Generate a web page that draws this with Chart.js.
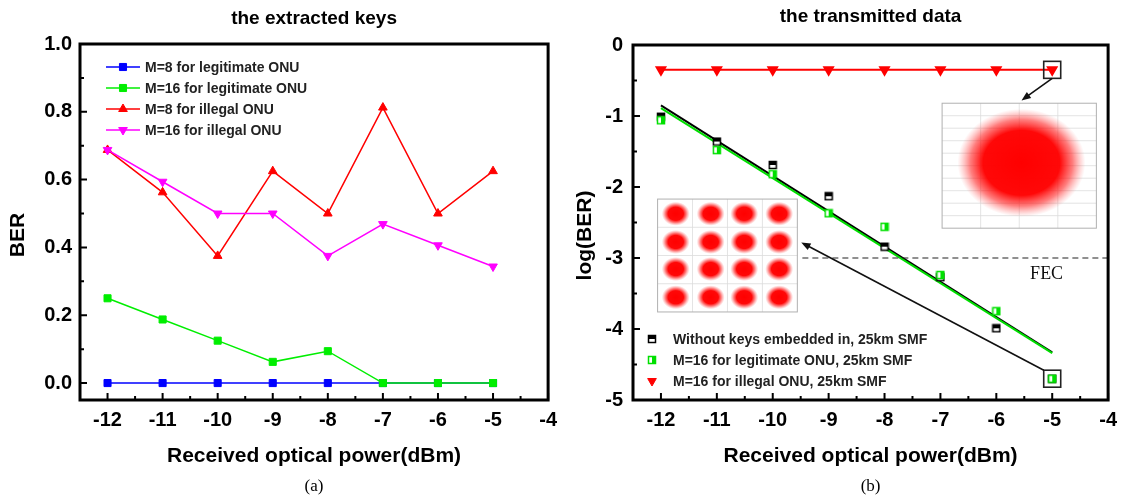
<!DOCTYPE html>
<html>
<head>
<meta charset="utf-8">
<script src="https://cdn.jsdelivr.net/npm/chart.js@4.4.0/dist/chart.umd.min.js"></script>
<style>
  html, body { margin: 0; padding: 0; background: #fff; }
  #wrap { position: relative; width: 1125px; height: 499px; overflow: hidden; }
  #wrap canvas { position: absolute; top: 0; }
</style>
</head>
<body>
<div id="wrap">
  <canvas id="keysChart" width="565" height="499" style="left:0"></canvas>
  <canvas id="dataChart" width="560" height="499" style="left:565px"></canvas>
</div>
<script>
// received optical power (dBm)
const power = [-12, -11, -10, -9, -8, -7, -6, -5];
const xTicks = [-12, -11, -10, -9, -8, -7, -6, -5, -4];

// (a) BER of the extracted keys
const berM8Legit = [0, 0, 0, 0, 0, 0, 0, 0];
const berM16Legit = [0.25, 0.1875, 0.125, 0.0625, 0.094, 0, 0, 0];
const berM8Illegal = [0.6875, 0.5625, 0.375, 0.625, 0.5, 0.8125, 0.5, 0.625];
const berM16Illegal = [0.6875, 0.59375, 0.5, 0.5, 0.375, 0.46875, 0.40625, 0.34375];
const berTicks = [0, 0.2, 0.4, 0.6, 0.8, 1.0];

// (b) log(BER) of the transmitted data
const logNoKeys = [-1.01, -1.36, -1.69, -2.13, -2.84, -3.27, -3.99, -4.70];
const logM16Legit = [-1.06, -1.48, -1.82, -2.37, -2.56, -3.24, -3.75, -4.70];
const logM16Illegal = [-0.35, -0.35, -0.35, -0.35, -0.35, -0.35, -0.35, -0.35];
const fitPower = [-12, -5];
const fitNoKeys = [-0.85, -4.33];
const fitM16Legit = [-0.89, -4.34];
const fecPower = [-9.47, -4];
const fecLevel = [-3, -3];
const logTicks = [0, -1, -2, -3, -4, -5];

const sans = "'Liberation Sans', Arial, Helvetica, sans-serif";
const serif = "'Liberation Serif', 'Times New Roman', serif";

const pts = (xs, ys) => xs.map((x, i) => ({ x: x, y: ys[i] }));
const mids = a => a.slice(1).map((v, i) => (v + a[i]) / 2);

// half filled square markers (Origin style)
function halfSquare(color, half) {
  const c = document.createElement('canvas');
  c.width = 10; c.height = 10;
  const g = c.getContext('2d');
  g.fillStyle = '#fff';
  g.fillRect(1, 1, 8, 8);
  g.fillStyle = color;
  if (half === 'top') g.fillRect(1, 1, 8, 4);
  else g.fillRect(5, 1, 4, 8);
  g.strokeStyle = color;
  g.lineWidth = 1.5;
  g.strokeRect(1.5, 1.5, 7, 7);
  return c;
}
const blackHalf = halfSquare('#000', 'top');
const greenHalf = halfSquare('#00e000', 'right');

function marker(ctx, style, rotation, x, y, color) {
  ctx.save();
  if (style instanceof HTMLCanvasElement) {
    ctx.drawImage(style, x - style.width / 2, y - style.height / 2);
  } else {
    ctx.fillStyle = color;
    ctx.strokeStyle = color;
    Chart.helpers.drawPoint(ctx, { pointStyle: style, rotation: rotation, radius: 5, borderWidth: 1 }, x, y);
  }
  ctx.restore();
}

function frameAndTicks(chart) {
  const { ctx, chartArea: a, scales } = chart;
  const x = scales.x, y = scales.y;
  const xv = x.ticks.map(t => t.value), yv = y.ticks.map(t => t.value);
  ctx.save();
  ctx.strokeStyle = '#000';
  ctx.lineWidth = 2;
  ctx.beginPath();
  xv.forEach(v => { const p = x.getPixelForValue(v); ctx.moveTo(p, a.bottom); ctx.lineTo(p, a.bottom - 7); });
  mids(xv).forEach(v => { const p = x.getPixelForValue(v); ctx.moveTo(p, a.bottom); ctx.lineTo(p, a.bottom - 4); });
  yv.forEach(v => { const p = y.getPixelForValue(v); ctx.moveTo(a.left, p); ctx.lineTo(a.left + 7, p); });
  mids(yv).forEach(v => { const p = y.getPixelForValue(v); ctx.moveTo(a.left, p); ctx.lineTo(a.left + 4, p); });
  ctx.stroke();
  ctx.lineWidth = 3;
  ctx.strokeRect(a.left, a.top, a.right - a.left, a.bottom - a.top);
  ctx.restore();
}

function texts(chart, title, titleY, yTitle, yTitleX, caption) {
  const { ctx, chartArea: a } = chart;
  const cx = (a.left + a.right) / 2;
  ctx.save();
  ctx.fillStyle = '#000';
  ctx.textAlign = 'center';
  ctx.textBaseline = 'middle';
  ctx.font = 'bold 19px ' + sans;
  ctx.fillText(title, cx, titleY);
  ctx.font = '17px ' + serif;
  ctx.fillText(caption, cx, 487);
  ctx.translate(yTitleX, (a.top + a.bottom) / 2 + 13);
  ctx.rotate(-Math.PI / 2);
  ctx.font = 'bold 21px ' + sans;
  ctx.fillText(yTitle, 0, 0);
  ctx.restore();
}

function legendBox(chart, rows, x0, y0, dy, withLine) {
  const ctx = chart.ctx;
  rows.forEach((r, i) => {
    const y = y0 + i * dy;
    if (withLine) {
      ctx.save();
      ctx.strokeStyle = r.color;
      ctx.lineWidth = 1.5;
      ctx.beginPath();
      ctx.moveTo(x0, y); ctx.lineTo(x0 + 34, y);
      ctx.stroke();
      ctx.restore();
      marker(ctx, r.style, r.rotation, x0 + 17, y, r.color);
    } else {
      marker(ctx, r.style, r.rotation, x0, y, r.color);
    }
    ctx.save();
    ctx.fillStyle = '#222';
    ctx.font = 'bold 14px ' + sans;
    ctx.textBaseline = 'middle';
    ctx.fillText(r.label, withLine ? x0 + 39 : x0 + 21, y + 1);
    ctx.restore();
  });
}

function xScale() {
  return {
    type: 'linear', min: -12.5, max: -4,
    afterBuildTicks: s => { s.ticks = xTicks.map(v => ({ value: v })); },
    afterFit: s => { s.height = 99; },
    grid: { display: false, drawTicks: false },
    border: { display: false },
    ticks: { padding: 8, color: '#000', font: { family: sans, size: 20, weight: 'bold' }, callback: v => String(v) },
    title: {
      display: true, text: 'Received optical power(dBm)', color: '#000',
      font: { family: sans, size: 21, weight: 'bold', lineHeight: 1.2 },
      padding: { top: 0, bottom: 30 }
    }
  };
}

function yScale(min, max, ticks, width, pad, fmt) {
  return {
    type: 'linear', min: min, max: max,
    afterBuildTicks: s => { s.ticks = ticks.map(v => ({ value: v })); },
    afterFit: s => { s.width = width; },
    grid: { display: false, drawTicks: false },
    border: { display: false },
    ticks: { padding: pad, color: '#000', font: { family: sans, size: 20, weight: 'bold' }, callback: fmt }
  };
}

// ---------- (a) the extracted keys ----------
const keysSets = [
  { label: 'M=8 for legitimate ONU', data: pts(power, berM8Legit), color: '#0000ff', style: 'rect', rotation: 0, order: 3 },
  { label: 'M=16 for legitimate ONU', data: pts(power, berM16Legit), color: '#00ee00', style: 'rect', rotation: 0, order: 2 },
  { label: 'M=8 for illegal ONU', data: pts(power, berM8Illegal), color: '#ff0000', style: 'triangle', rotation: 0, order: 1 },
  { label: 'M=16 for illegal ONU', data: pts(power, berM16Illegal), color: '#ff00ff', style: 'triangle', rotation: 180, order: 0 }
];

new Chart(document.getElementById('keysChart'), {
  type: 'line',
  data: {
    datasets: keysSets.map(d => ({
      label: d.label, data: d.data, order: d.order,
      borderColor: d.color, backgroundColor: d.color, borderWidth: 1.5,
      pointStyle: d.style, rotation: d.rotation, pointRadius: 5, pointBorderWidth: 1,
      pointBackgroundColor: d.color, pointBorderColor: d.color, tension: 0
    }))
  },
  options: {
    responsive: false, animation: false,
    layout: { padding: { top: 44, right: 8, left: 0, bottom: 0 } },
    plugins: { legend: { display: false }, tooltip: { enabled: false } },
    scales: {
      x: xScale(),
      y: yScale(-0.05, 1.0, berTicks, 80, 8, v => v.toFixed(1))
    }
  },
  plugins: [{
    id: 'decorA',
    afterDatasetsDraw: c => frameAndTicks(c),
    afterDraw: c => {
      texts(c, 'the extracted keys', 19, 'BER', 18, '(a)');
      legendBox(c, keysSets, c.chartArea.left + 26, c.chartArea.top + 23, 21, true);
    }
  }]
});

// ---------- (b) the transmitted data ----------
function cloud(ctx, cx, cy, rx, ry, core) {
  ctx.save();
  ctx.translate(cx, cy);
  ctx.scale(1, ry / rx);
  const g = ctx.createRadialGradient(0, 0, 0, 0, 0, rx);
  g.addColorStop(0, 'rgba(255,0,0,1)');
  g.addColorStop(core, 'rgba(255,0,0,0.97)');
  g.addColorStop(Math.min(1, core + 0.2), 'rgba(255,20,20,0.55)');
  g.addColorStop(1, 'rgba(255,90,90,0)');
  ctx.fillStyle = g;
  ctx.beginPath();
  ctx.arc(0, 0, rx, 0, Math.PI * 2);
  ctx.fill();
  ctx.restore();
}

function inset(ctx, l, t, r, b, cols, rows) {
  ctx.save();
  ctx.fillStyle = '#fff';
  ctx.fillRect(l, t, r - l, b - t);
  ctx.strokeStyle = '#dcdcdc';
  ctx.lineWidth = 0.8;
  ctx.beginPath();
  for (let i = 1; i < cols; i++) { const x = l + (r - l) * i / cols; ctx.moveTo(x, t); ctx.lineTo(x, b); }
  for (let j = 1; j < rows; j++) { const y = t + (b - t) * j / rows; ctx.moveTo(l, y); ctx.lineTo(r, y); }
  ctx.stroke();
  ctx.strokeStyle = '#b0b0b0';
  ctx.lineWidth = 1;
  ctx.strokeRect(l, t, r - l, b - t);
  ctx.restore();
}

function arrow(ctx, x1, y1, x2, y2) {
  const ang = Math.atan2(y2 - y1, x2 - x1);
  ctx.save();
  ctx.strokeStyle = '#111';
  ctx.fillStyle = '#111';
  ctx.lineWidth = 1.6;
  ctx.beginPath();
  ctx.moveTo(x1, y1);
  ctx.lineTo(x2 - 6 * Math.cos(ang), y2 - 6 * Math.sin(ang));
  ctx.stroke();
  ctx.beginPath();
  ctx.moveTo(x2, y2);
  ctx.lineTo(x2 - 10 * Math.cos(ang - 0.38), y2 - 10 * Math.sin(ang - 0.38));
  ctx.lineTo(x2 - 10 * Math.cos(ang + 0.38), y2 - 10 * Math.sin(ang + 0.38));
  ctx.closePath();
  ctx.fill();
  ctx.restore();
}

const dataLegend = [
  { label: 'Without keys embedded in, 25km SMF', style: blackHalf, rotation: 0, color: '#000' },
  { label: 'M=16 for legitimate ONU, 25km SMF', style: greenHalf, rotation: 0, color: '#00e000' },
  { label: 'M=16 for illegal ONU, 25km SMF', style: 'triangle', rotation: 180, color: '#ff0000' }
];

new Chart(document.getElementById('dataChart'), {
  type: 'line',
  data: {
    datasets: [
      { label: 'fit no keys', data: pts(fitPower, fitNoKeys), borderColor: '#000', borderWidth: 2, pointRadius: 0, order: 6 },
      { label: 'fit M=16 legit', data: pts(fitPower, fitM16Legit), borderColor: '#00dd00', borderWidth: 2, pointRadius: 0, order: 5 },
      { label: 'FEC', data: pts(fecPower, fecLevel), borderColor: '#222', borderWidth: 1.2, borderDash: [6, 4], pointRadius: 0, order: 4 },
      { label: dataLegend[0].label, data: pts(power, logNoKeys), showLine: false, pointStyle: blackHalf, order: 3 },
      { label: dataLegend[1].label, data: pts(power, logM16Legit), showLine: false, pointStyle: greenHalf, order: 2 },
      { label: dataLegend[2].label, data: pts(power, logM16Illegal), borderColor: '#ff0000', borderWidth: 2,
        pointStyle: 'triangle', rotation: 180, pointRadius: 5, pointBackgroundColor: '#ff0000', pointBorderColor: '#ff0000', order: 1 }
    ]
  },
  options: {
    responsive: false, animation: false,
    layout: { padding: { top: 45, right: 15, left: 0, bottom: 0 } },
    plugins: { legend: { display: false }, tooltip: { enabled: false } },
    scales: {
      x: xScale(),
      y: yScale(-5, 0, logTicks, 68, 10, v => String(v))
    }
  },
  plugins: [{
    id: 'decorB',
    beforeDatasetsDraw: c => {
      const { ctx, scales: { x, y } } = c;
      // 16QAM constellation (legitimate ONU)
      const l = x.getPixelForValue(-12.06), r = x.getPixelForValue(-9.56);
      const t = y.getPixelForValue(-2.17), b = y.getPixelForValue(-3.76);
      inset(ctx, l, t, r, b, 4, 4);
      [0.13, 0.38, 0.62, 0.87].forEach(fy => [0.13, 0.38, 0.62, 0.87].forEach(fx =>
        cloud(ctx, l + (r - l) * fx, t + (b - t) * fy, 14, 12, 0.55)));
      // scrambled constellation (illegal ONU)
      const l2 = x.getPixelForValue(-6.97), r2 = x.getPixelForValue(-4.21);
      const t2 = y.getPixelForValue(-0.82), b2 = y.getPixelForValue(-2.58);
      inset(ctx, l2, t2, r2, b2, 4, 10);
      cloud(ctx, x.getPixelForValue(-5.55), y.getPixelForValue(-1.66), 64, 54, 0.6);
    },
    afterDatasetsDraw: c => frameAndTicks(c),
    afterDraw: c => {
      const { ctx, chartArea: a, scales: { x, y } } = c;
      texts(c, 'the transmitted data', 17, 'log(BER)', 20, '(b)');
      // FEC label
      ctx.save();
      ctx.fillStyle = '#111';
      ctx.font = '18px ' + serif;
      ctx.textAlign = 'center';
      ctx.textBaseline = 'middle';
      ctx.fillText('FEC', x.getPixelForValue(-5.1), y.getPixelForValue(-3.23));
      // highlight boxes at -5 dBm
      ctx.strokeStyle = '#222';
      ctx.lineWidth = 1.6;
      [logM16Illegal[7], logM16Legit[7]].forEach(v => {
        const px = x.getPixelForValue(power[7]), py = y.getPixelForValue(v);
        ctx.strokeRect(px - 8.5, py - 8.5, 17, 17);
      });
      ctx.restore();
      arrow(ctx, x.getPixelForValue(-5.0), y.getPixelForValue(-0.47), x.getPixelForValue(-5.55), y.getPixelForValue(-0.78));
      arrow(ctx, x.getPixelForValue(-5.15), y.getPixelForValue(-4.58), x.getPixelForValue(-9.49), y.getPixelForValue(-2.78));
      legendBox(c, dataLegend, a.left + 19, a.bottom - 61, 21, false);
    }
  }]
});
</script>
</body>
</html>
